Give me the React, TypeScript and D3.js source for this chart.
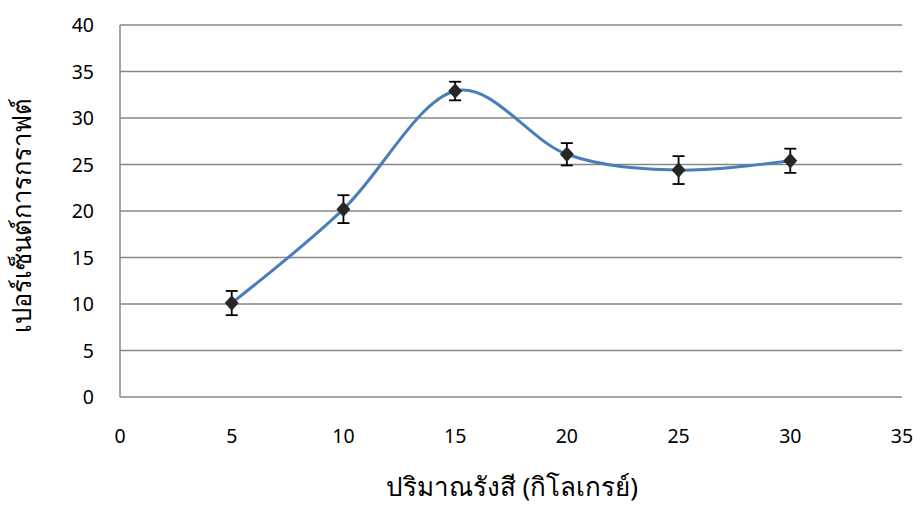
import React from "react";
import * as d3 from "d3";

// Radiation dose (kGy) vs. graft percentage, with error bars
const doses = [5, 10, 15, 20, 25, 30];
const graftPercent = [10.1, 20.2, 32.9, 26.1, 24.4, 25.4];
const errors = [1.3, 1.5, 1.0, 1.2, 1.5, 1.3];
const xTicks = [0, 5, 10, 15, 20, 25, 30, 35];
const yTicks = [0, 5, 10, 15, 20, 25, 30, 35, 40];
const xTitle = "ปริมาณรังสี (กิโลเกรย์)";
const yTitle = "เปอร์เซ็นต์การกราฟต์";

const W = 917;
const H = 505;
const left = 120;
const right = 902;
const top = 25;
const bottom = 397;
const font = "'Noto Sans', 'DejaVu Sans', sans-serif";

// Rhombus marker, slightly taller than wide
const wideDiamond = {
  draw(ctx: any, size: number) {
    const r = Math.sqrt(size) / 2;
    const w = r * 0.9;
    ctx.moveTo(0, -r);
    ctx.lineTo(w, 0);
    ctx.lineTo(0, r);
    ctx.lineTo(-w, 0);
    ctx.closePath();
  },
};

export default function App() {
  const x = d3.scaleLinear().domain([0, 35]).range([left, right]);
  const y = d3.scaleLinear().domain([0, 40]).range([bottom, top]);
  const pts = doses.map((d, i) => [x(d), y(graftPercent[i])] as [number, number]);
  const line = d3.line().curve(d3.curveCatmullRom.alpha(0))(pts) || "";
  const diamond = d3.symbol().type(wideDiamond as any).size(240)() || "";

  return (
    <svg width={W} height={H} style={{ position: "absolute", left: 0, top: 0, background: "#fff" }}>
      {yTicks.map((t) => (
        <line key={"g" + t} x1={left} x2={right} y1={y(t)} y2={y(t)} stroke="#868686" strokeWidth={1.5} />
      ))}
      <line x1={left} x2={left} y1={top} y2={bottom} stroke="#868686" strokeWidth={1.5} />
      {yTicks.map((t) => (
        <text key={"y" + t} x={94} y={y(t)} dy="0.36em" textAnchor="end" fontFamily={font} fontSize={19.5} fill="#000">
          {t}
        </text>
      ))}
      {xTicks.map((t) => (
        <text key={"x" + t} x={x(t)} y={443} textAnchor="middle" fontFamily={font} fontSize={19.5} fill="#000">
          {t}
        </text>
      ))}
      <path d={line} fill="none" stroke="#4a7ebb" strokeWidth={3} />
      {doses.map((d, i) => {
        const cx = x(d);
        const yt = y(graftPercent[i] + errors[i]);
        const yb = y(graftPercent[i] - errors[i]);
        return (
          <g key={"e" + d} stroke="#000" strokeWidth={1.8}>
            <line x1={cx} x2={cx} y1={yt} y2={yb} />
            <line x1={cx - 6} x2={cx + 6} y1={yt} y2={yt} />
            <line x1={cx - 6} x2={cx + 6} y1={yb} y2={yb} />
          </g>
        );
      })}
      {pts.map(([px, py], i) => (
        <path key={"m" + i} d={diamond} transform={`translate(${px},${py})`} fill="#262626" />
      ))}
      <text x={512} y={496} textAnchor="middle" fontFamily={font} fontSize={26} fill="#000">
        {xTitle}
      </text>
      <text
        transform={`translate(31,${(top + bottom) / 2 + 4}) rotate(-90)`}
        textAnchor="middle"
        fontFamily={font}
        fontSize={25.5}
        fill="#000"
      >
        {yTitle}
      </text>
    </svg>
  );
}
